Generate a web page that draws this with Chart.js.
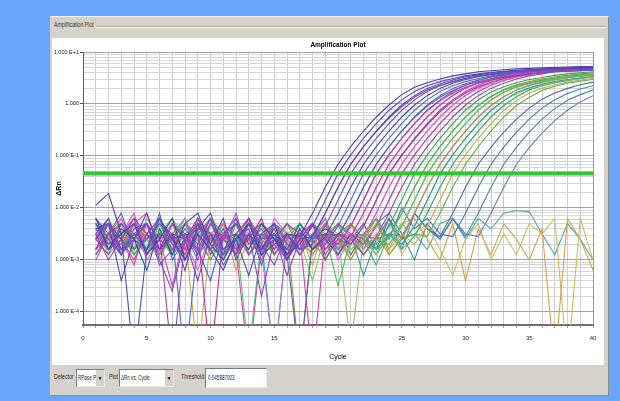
<!DOCTYPE html>
<html>
<head>
<meta charset="utf-8">
<script src="https://cdn.jsdelivr.net/npm/chart.js@4.4.0/dist/chart.umd.min.js"></script>
<style>
  body { margin: 0; width: 620px; height: 401px; background: #6ca6fc; overflow: hidden;
         font-family: 'Liberation Sans', Arial, sans-serif; }
  #panel { position: absolute; left: 50px; top: 16px; width: 558px; height: 378px; background: #d5d2cc;
           border-top: 1px solid #f4f4f4; border-right: 1px solid #8c8c8c; border-bottom: 1px solid #8c8c8c; }
  .narrow { position: absolute; white-space: nowrap; transform: scaleX(0.74); transform-origin: 0 50%; }
  #caption { left: 4px; top: 4px; font-size: 7px; color: #333; }
  #groupline { position: absolute; left: 46px; right: 3px; top: 9px; border-top: 1px solid #a9a6a0; border-bottom: 1px solid #fff; }
  #plotbox { position: absolute; left: 2px; top: 21px; width: 552px; height: 327px; background: #fff; }
  .lbl { top: 356px; font-size: 7px; color: #222; }
  .box { position: absolute; top: 352px; height: 16px; background: #fff; border: 1px solid #7a7a7a;
         border-right-color: #e8e8e8; border-bottom-color: #e8e8e8; }
  .box .narrow { left: 1px; top: 4px; font-size: 6.5px; color: #222; transform: scaleX(0.7); }
  .arrow { position: absolute; right: 0; top: 0; width: 8px; height: 16px; background: #d5d2cc;
           font-size: 5px; text-align: center; line-height: 16px; color: #000; }
</style>
</head>
<body>
<div id="panel">
  <div id="caption" class="narrow">Amplification Plot</div>
  <div id="groupline"></div>
  <div id="plotbox"><canvas id="ampChart" width="552" height="326"></canvas></div>
  <div class="lbl narrow" style="left:4px">Detector</div>
  <div class="box" style="left:26px;width:27px"><div class="narrow">RPase P</div><div class="arrow">▼</div></div>
  <div class="lbl narrow" style="left:59px">Plot</div>
  <div class="box" style="left:69px;width:53px"><div class="narrow">ΔRn vs. Cycle</div><div class="arrow">▼</div></div>
  <div class="lbl narrow" style="left:131px">Threshold</div>
  <div class="box" style="left:155px;width:60px;height:18px;top:351px"><div class="narrow" style="top:5px;left:2px">0.045887003</div></div>
</div>
<script>
// cycles
const cycles = [1,2,3,4,5,6,7,8,9,10,11,12,13,14,15,16,17,18,19,20,
                21,22,23,24,25,26,27,28,29,30,31,32,33,34,35,36,37,38,39,40];
const xTickLabels = [0, 5, 10, 15, 20, 25, 30, 35, 40];
const yDecades = [10, 1, 0.1, 0.01, 0.001, 0.0001];
const yDecadeLabels = ['1.000 E+1', '1.000', '1.000 E-1', '1.000 E-2', '1.000 E-3', '1.000 E-4'];
const threshold = 0.045887003;

// log10(ΔRn) per well, cycles 1..40 (-5 = below the axis)
const wA1 = [-1.95,-1.72,-2.5,-2.3,-2.9,-2.6,-2.2,-3.0,-2.5,-2.8,-3.2,-2.6,-2.3,-2.9,-2.7,-2.5,
  -2.55,-2.1,-1.6,-1.16,-0.82,-0.52,-0.25,-0.02,0.18,0.32,0.41,0.48,0.54,0.58,0.62,0.64,0.66,0.675,0.685,0.695,0.705,0.71,0.72,0.72];
const wA2 = [-2.4,-2.3,-3.4,-2.6,-2.1,-2.8,-2.5,-3.2,-2.3,-2.7,-2.2,-3.0,-2.5,-2.8,-2.4,-2.9,
  -2.7,-2.35,-1.85,-1.34,-0.98,-0.66,-0.38,-0.12,0.08,0.24,0.35,0.43,0.49,0.54,0.58,0.61,0.63,0.65,0.66,0.67,0.68,0.69,0.695,0.70];
const wA3 = [-2.3,-2.7,-2.5,-5,-2.8,-2.2,-2.6,-3.0,-2.4,-2.1,-2.8,-2.6,-3.3,-2.5,-2.3,-3.0,-2.6,
  -2.55,-2.1,-1.6,-1.16,-0.82,-0.52,-0.25,-0.02,0.16,0.30,0.39,0.46,0.52,0.56,0.60,0.62,0.64,0.655,0.665,0.675,0.685,0.69,0.70];
const wA4 = [-2.6,-2.2,-2.9,-2.4,-2.3,-3.0,-3.6,-2.6,-2.2,-2.8,-2.4,-2.9,-2.3,-2.7,-3.1,-2.5,-2.8,
  -2.7,-2.35,-1.85,-1.34,-0.98,-0.66,-0.38,-0.12,0.08,0.24,0.35,0.43,0.49,0.54,0.58,0.61,0.63,0.65,0.66,0.67,0.68,0.69,0.695];
const wA5 = [-2.2,-2.8,-2.4,-2.6,-3.2,-2.4,-2.9,-2.3,-2.1,-2.7,-3.0,-2.5,-2.8,-2.3,-2.6,-2.9,-2.4,-2.8,
  -2.55,-2.1,-1.6,-1.16,-0.82,-0.52,-0.25,-0.02,0.16,0.30,0.40,0.47,0.53,0.57,0.61,0.63,0.65,0.665,0.675,0.685,0.69,0.70];
const wA6 = [-2.9,-2.5,-2.1,-2.8,-2.6,-2.3,-2.5,-5,-2.7,-2.2,-2.9,-2.6,-2.4,-3.1,-2.3,-2.7,-2.8,-2.5,
  -2.7,-2.35,-1.85,-1.34,-0.98,-0.66,-0.38,-0.12,0.08,0.24,0.35,0.43,0.49,0.54,0.58,0.61,0.63,0.65,0.66,0.67,0.68,0.69];
const wA7 = [-2.5,-3.0,-2.6,-2.2,-2.5,-2.8,-2.3,-2.6,-3.4,-2.5,-2.9,-2.2,-2.7,-2.4,-2.8,-2.5,-2.9,
  -2.55,-2.1,-1.6,-1.16,-0.82,-0.53,-0.27,-0.05,0.13,0.27,0.36,0.43,0.49,0.53,0.57,0.59,0.61,0.625,0.635,0.645,0.655,0.66,0.67];
const wA8 = [-2.6,-2.3,-2.9,-2.5,-2.8,-2.1,-3.0,-2.6,-2.4,-2.5,-3.1,-2.7,-2.3,-2.6,-2.5,-2.9,-5,-2.6,-2.4,
  -2.55,-2.1,-1.6,-1.16,-0.82,-0.52,-0.25,-0.02,0.16,0.30,0.39,0.46,0.52,0.56,0.60,0.62,0.64,0.655,0.665,0.675,0.685];
const wB1 = [-2.4,-2.8,-2.5,-2.2,-2.9,-2.6,-3.5,-2.5,-2.8,-2.3,-2.6,-2.1,-2.9,-2.5,-2.7,-3.0,-2.4,-2.8,-2.5,
  -2.7,-2.35,-1.85,-1.34,-0.98,-0.66,-0.38,-0.12,0.08,0.24,0.36,0.45,0.52,0.57,0.61,0.64,0.66,0.68,0.69,0.70,0.71];
const wB2 = [-3.0,-2.5,-2.7,-2.3,-2.1,-2.8,-2.5,-2.9,-2.2,-2.6,-2.5,-2.8,-5,-2.7,-2.3,-2.9,-2.5,-2.8,-2.6,-2.3,
  -2.55,-2.1,-1.6,-1.16,-0.82,-0.52,-0.25,-0.02,0.17,0.31,0.41,0.49,0.55,0.60,0.63,0.66,0.68,0.695,0.705,0.715];
const wB3 = [-2.2,-2.5,-2.9,-2.6,-2.3,-3.1,-2.8,-2.4,-2.7,-2.2,-2.9,-2.6,-2.3,-2.8,-2.5,-3.3,-2.6,-2.3,-2.9,-2.5,
  -2.7,-2.35,-1.85,-1.34,-0.98,-0.66,-0.38,-0.12,0.08,0.24,0.36,0.45,0.52,0.57,0.61,0.64,0.66,0.68,0.69,0.70];
const wB4 = [-2.8,-2.3,-2.6,-3.0,-2.5,-2.2,-2.7,-2.9,-2.4,-5,-2.5,-2.8,-2.6,-2.2,-2.9,-2.5,-2.8,-2.3,-3.0,-2.6,
  -2.7,-2.35,-1.85,-1.34,-0.99,-0.68,-0.40,-0.15,0.05,0.21,0.33,0.42,0.49,0.54,0.58,0.61,0.64,0.66,0.67,0.68];
const wB5 = [-2.5,-2.7,-2.2,-2.8,-2.5,-2.9,-2.3,-2.6,-3.2,-2.5,-2.3,-2.8,-2.6,-2.9,-2.2,-2.5,-2.8,-2.6,-2.3,-3.0,-2.6,
  -2.55,-2.1,-1.6,-1.16,-0.82,-0.52,-0.25,-0.02,0.17,0.31,0.41,0.49,0.55,0.60,0.63,0.66,0.68,0.695,0.71];
const wB6 = [-2.6,-2.9,-2.3,-2.5,-2.8,-2.2,-2.6,-2.5,-3.0,-2.3,-2.6,-2.8,-2.5,-3.7,-2.6,-2.3,-2.5,-2.8,-2.6,
  -2.7,-2.35,-1.85,-1.34,-0.98,-0.66,-0.38,-0.13,0.06,0.21,0.32,0.40,0.46,0.51,0.55,0.58,0.60,0.62,0.63,0.64,0.65];
const wB7 = [-2.4,-2.7,-2.5,-2.1,-2.9,-2.6,-2.8,-2.3,-2.5,-2.2,-3.0,-2.6,-2.5,-2.8,-2.3,-2.6,-2.9,-2.5,-2.2,-2.8,-2.6,
  -2.7,-2.35,-1.85,-1.34,-0.98,-0.66,-0.38,-0.12,0.08,0.24,0.36,0.45,0.52,0.57,0.61,0.64,0.66,0.68,0.69];
const wB8 = [-2.9,-2.5,-2.3,-2.6,-2.8,-2.5,-5,-2.6,-2.3,-2.9,-2.5,-2.8,-2.2,-2.6,-2.5,-3.0,-2.6,-2.3,-2.8,-2.5,-2.6,-2.9,
  -2.55,-2.1,-1.6,-1.16,-0.82,-0.52,-0.25,-0.02,0.16,0.30,0.40,0.48,0.54,0.58,0.62,0.64,0.66,0.68];
const wB9 = [-2.5,-2.2,-2.8,-2.6,-2.3,-2.9,-2.5,-2.6,-2.8,-3.4,-2.5,-2.3,-2.6,-2.9,-2.5,-2.8,-2.3,-2.6,-2.5,
  -2.55,-2.1,-1.6,-1.16,-0.82,-0.52,-0.26,-0.04,0.13,0.26,0.36,0.43,0.48,0.52,0.56,0.58,0.60,0.62,0.63,0.64,0.65];
const wB10 = [-2.6,-2.8,-2.5,-2.3,-3.0,-2.6,-2.5,-2.2,-2.8,-2.6,-2.9,-2.3,-2.5,-2.8,-5,-2.6,-2.5,-2.3,-2.8,-2.6,-2.5,
  -2.55,-2.1,-1.6,-1.16,-0.82,-0.52,-0.25,-0.02,0.16,0.30,0.40,0.48,0.54,0.59,0.62,0.65,0.67,0.69,0.70];
const wB11 = [-2.2,-2.6,-2.9,-2.5,-2.3,-2.8,-2.6,-2.5,-2.9,-2.3,-2.6,-2.5,-2.2,-2.8,-2.6,-3.0,-2.5,-2.3,-2.6,-2.9,-2.5,
  -2.7,-2.35,-1.85,-1.34,-0.98,-0.66,-0.38,-0.12,0.08,0.24,0.36,0.45,0.52,0.57,0.61,0.64,0.66,0.68,0.69];
const wB12 = [-2.8,-2.5,-2.6,-3.1,-2.3,-2.6,-2.5,-2.8,-2.2,-2.5,-2.6,-2.9,-2.5,-2.3,-2.6,-2.8,-2.5,-5,-2.6,-2.5,
  -2.55,-2.1,-1.6,-1.16,-0.82,-0.52,-0.25,-0.02,0.16,0.30,0.40,0.48,0.54,0.59,0.62,0.65,0.67,0.69,0.70,0.71];
const wC1 = [-2.5,-2.8,-2.3,-2.6,-2.9,-2.5,-2.2,-2.6,-2.8,-2.5,-3.0,-2.3,-2.6,-2.5,-2.9,-2.6,-2.3,-2.8,-2.5,-3.5,-2.6,-2.5,-2.8,
  -2.55,-2.1,-1.6,-1.16,-0.82,-0.52,-0.25,-0.03,0.14,0.27,0.35,0.41,0.46,0.50,0.53,0.56,0.58];
const wC2 = [-2.6,-2.3,-2.5,-2.8,-2.2,-2.6,-2.9,-2.5,-2.3,-2.6,-2.8,-2.5,-4.8,-2.6,-2.3,-2.9,-2.5,-2.6,-2.2,-2.8,-2.5,-2.9,-2.6,
  -2.7,-2.35,-1.85,-1.34,-0.98,-0.66,-0.38,-0.12,0.07,0.22,0.32,0.39,0.44,0.48,0.51,0.54,0.56];
const wC3 = [-2.3,-2.9,-2.6,-2.5,-2.8,-2.3,-2.6,-3.0,-2.5,-2.2,-2.6,-2.8,-2.5,-2.3,-2.9,-2.6,-2.5,-2.8,-2.3,-2.6,-3.0,-2.5,-2.6,
  -2.7,-2.35,-1.85,-1.34,-0.98,-0.66,-0.38,-0.12,0.08,0.23,0.33,0.40,0.45,0.49,0.52,0.55,0.57];
const wC4 = [-2.8,-2.5,-2.2,-2.6,-2.5,-2.9,-2.3,-2.6,-2.8,-2.5,-2.3,-3.2,-2.6,-2.5,-2.8,-2.3,-2.6,-2.9,-2.5,-2.6,-2.3,-2.8,-2.5,-2.9,
  -2.55,-2.1,-1.6,-1.16,-0.82,-0.52,-0.25,-0.03,0.14,0.27,0.35,0.41,0.46,0.50,0.53,0.55];
const wC5 = [-2.5,-2.6,-2.9,-2.3,-2.8,-2.5,-2.6,-2.2,-2.9,-2.6,-2.5,-2.8,-2.3,-2.6,-5,-2.5,-2.8,-2.6,-2.3,-2.9,-2.5,-2.6,-2.8,-2.5,
  -2.7,-2.35,-1.85,-1.34,-0.98,-0.66,-0.38,-0.12,0.07,0.22,0.31,0.38,0.43,0.47,0.50,0.53];
const wC6 = [-2.6,-2.5,-2.3,-2.8,-2.6,-3.0,-2.5,-2.3,-2.6,-2.8,-2.5,-2.9,-2.6,-2.3,-2.5,-2.8,-2.6,-3.4,-2.5,-2.3,-2.8,-2.6,-2.9,-2.5,
  -2.7,-2.35,-1.85,-1.34,-0.98,-0.66,-0.38,-0.13,0.06,0.20,0.30,0.37,0.42,0.46,0.49,0.52];
const wC7 = [-2.3,-2.8,-2.5,-2.6,-2.9,-2.3,-2.5,-2.8,-2.6,-2.2,-2.5,-2.9,-2.6,-2.8,-2.3,-2.5,-2.6,-2.9,-2.5,-2.8,-2.3,-2.6,-3.1,-2.5,-2.8,
  -2.55,-2.1,-1.6,-1.16,-0.82,-0.52,-0.25,-0.03,0.14,0.27,0.35,0.41,0.45,0.49,0.52];
const wC8 = [-2.8,-2.5,-2.6,-2.3,-2.5,-2.9,-2.6,-2.5,-4.9,-2.6,-2.3,-2.8,-2.5,-2.6,-2.9,-2.5,-2.3,-2.6,-2.8,-2.5,-3.0,-2.6,-2.3,-2.8,-2.5,
  -2.7,-2.35,-1.85,-1.34,-0.98,-0.66,-0.38,-0.12,0.07,0.21,0.30,0.37,0.42,0.46,0.49];
const wC9 = [-2.5,-2.6,-2.3,-2.9,-2.5,-2.8,-2.6,-2.3,-2.5,-3.0,-2.6,-2.5,-2.8,-2.3,-2.6,-2.5,-2.9,-2.6,-2.3,-2.8,-2.5,-2.6,-2.2,-2.9,-2.6,-2.5,
  -2.55,-2.1,-1.6,-1.16,-0.82,-0.52,-0.25,-0.03,0.13,0.26,0.34,0.40,0.44,0.47];
const wC10 = [-2.6,-2.5,-2.8,-2.3,-2.6,-2.9,-2.5,-2.6,-2.3,-2.8,-2.5,-2.6,-2.2,-2.9,-2.6,-2.5,-5,-2.6,-2.3,-2.8,-2.5,-2.6,-2.9,
  -2.55,-2.1,-1.6,-1.16,-0.82,-0.52,-0.25,-0.03,0.15,0.28,0.37,0.43,0.48,0.52,0.55,0.58,0.60];
const wC11 = [-2.5,-2.3,-2.6,-2.8,-2.5,-2.2,-2.9,-2.6,-2.5,-2.8,-2.3,-2.6,-2.5,-3.0,-2.6,-2.3,-2.8,-2.5,-2.6,-2.9,-2.5,-3.3,-2.6,-2.5,
  -2.55,-2.1,-1.6,-1.16,-0.82,-0.52,-0.25,-0.03,0.14,0.27,0.36,0.42,0.47,0.51,0.54,0.56];
const wC12 = [-2.9,-2.6,-2.5,-2.8,-2.3,-2.6,-2.5,-2.9,-2.6,-2.3,-2.8,-2.5,-2.6,-2.3,-2.9,-2.5,-2.8,-2.6,-2.3,-2.5,-4.7,-2.6,-2.8,-2.5,-2.3,
  -2.55,-2.1,-1.6,-1.16,-0.82,-0.52,-0.25,-0.03,0.14,0.27,0.35,0.41,0.46,0.50,0.53];
const wC13 = [-2.3,-2.6,-2.5,-2.9,-2.6,-2.3,-2.8,-2.5,-2.6,-2.2,-2.8,-2.5,-2.9,-2.6,-2.3,-2.5,-2.8,-2.6,-3.0,-2.5,-2.3,-2.6,
  -2.7,-2.35,-1.85,-1.34,-0.98,-0.66,-0.38,-0.12,0.08,0.23,0.33,0.41,0.47,0.51,0.55,0.58,0.60,0.62];
const wD1 = [-2.6,-2.3,-2.8,-2.5,-2.6,-2.9,-2.3,-2.5,-2.8,-2.6,-2.5,-2.2,-2.9,-2.6,-2.5,-2.8,-2.3,-2.6,-2.5,-2.9,-2.6,-2.3,-2.8,-2.2,-2.6,-2.1,-2.4,
  -2.55,-2.1,-1.6,-1.16,-0.83,-0.54,-0.29,-0.08,0.09,0.21,0.30,0.37,0.42];
const wD2 = [-2.5,-2.8,-2.6,-2.3,-2.9,-2.5,-2.6,-2.8,-2.3,-2.5,-2.6,-2.9,-2.5,-2.8,-2.3,-2.6,-2.5,-2.8,-2.6,-2.3,-2.9,-2.5,-2.2,-2.6,-2.0,-2.4,-2.2,-2.5,
  -2.55,-2.1,-1.6,-1.16,-0.83,-0.54,-0.29,-0.08,0.08,0.20,0.29,0.35];
const wD3 = [-2.8,-2.5,-2.3,-2.6,-2.5,-2.9,-2.6,-2.3,-2.8,-2.5,-2.6,-2.3,-2.9,-2.5,-2.6,-2.8,-2.5,-2.3,-2.6,-2.9,-2.5,-2.8,-2.3,-2.1,-2.5,-3.0,-2.3,-2.6,-2.2,
  -2.55,-2.1,-1.6,-1.16,-0.83,-0.54,-0.29,-0.09,0.07,0.18,0.27];
const wD4 = [-2.6,-2.5,-2.8,-2.3,-2.6,-2.5,-2.9,-2.6,-2.3,-2.5,-2.8,-2.6,-2.5,-2.9,-2.3,-2.6,-2.5,-2.8,-2.6,-2.3,-2.5,-2.9,-2.6,-2.2,-2.8,-2.1,-2.4,-2.6,-2.2,-2.5,
  -2.55,-2.1,-1.6,-1.16,-0.84,-0.56,-0.32,-0.12,0.04,0.16];
const wN1 = [-2.6,-2.3,-2.8,-2.5,-2.9,-2.6,-2.3,-3.0,-2.5,-2.8,-2.6,-2.3,-2.9,-2.5,-2.6,-2.8,-2.5,-3.1,-2.3,-2.6,
  -2.9,-2.5,-2.2,-2.8,-2.3,-2.2,-2.6,-3.0,-2.3,-3.4,-2.4,-2.9,-2.3,-2.6,-3.0,-2.4,-5,-2.2,-2.6,-3.2];
const wN2 = [-2.5,-2.8,-2.6,-2.3,-2.9,-2.5,-2.6,-2.8,-2.3,-2.5,-2.9,-2.6,-2.5,-2.8,-2.3,-2.6,-2.5,-2.9,-2.6,-2.3,
  -2.8,-2.5,-2.6,-2.2,-2.9,-2.5,-2.3,-2.8,-3.3,-2.6,-2.3,-3.0,-2.5,-2.9,-2.3,-2.5,-2.2,-5,-2.2,-3.0];
const wN3 = [-2.4,-2.6,-2.5,-2.9,-2.6,-2.3,-2.8,-2.5,-2.6,-3.0,-2.5,-2.3,-2.6,-2.8,-2.5,-2.9,-2.6,-2.3,-2.5,-2.8,
  -2.6,-2.5,-2.9,-2.3,-2.6,-2.5,-2.8,-2.3,-2.2,-2.6,-2.2,-2.4,-2.1,-2.05,-2.07,-2.5,-2.9,-2.3,-2.6,-3.0];

const wells = [wA1, wA2, wA3, wA4, wA5, wA6, wA7, wA8,
               wB1, wB2, wB3, wB4, wB5, wB6, wB7, wB8, wB9, wB10, wB11, wB12,
               wC1, wC2, wC3, wC4, wC5, wC6, wC7, wC8, wC9, wC10, wC11, wC12, wC13,
               wD1, wD2, wD3, wD4, wN1, wN2, wN3];
const wellColors = ['#4a3fb0', '#6a3cb8', '#3d55b5', '#7a4ac0', '#2f4f9f', '#5b62c8', '#8a3fb0', '#4a6ab0',
                    '#c03cc0', '#d04aa0', '#9b3fb8', '#b8309a', '#e060c8', '#7050c0', '#c85cb8', '#a040a0',
                    '#4060c0', '#d070d0', '#8040b0', '#e040a0',
                    '#3cc050', '#50c878', '#a0a040', '#d09040', '#30a0a0', '#80d060', '#40b080', '#c0b050',
                    '#60b040', '#b08040', '#4090a0', '#90c070', '#2aa860',
                    '#5068a8', '#4a7ab8', '#3a8c9c', '#6080c0', '#d8a050', '#c8c060', '#50a8a8'];

const isDecade = v => Math.abs(Math.log10(v) - Math.round(Math.log10(v))) < 1e-6;
const yGrid = [];
yDecades.forEach(d => {
    if (d < 10) [1, 2, 3, 4, 5, 6, 7, 8, 9].forEach(m => yGrid.push(m * d));
});
yGrid.push(10);

Chart.defaults.font.family = "'Liberation Sans', Arial, sans-serif";
Chart.defaults.color = '#222';

const datasets = [{
    data: [{x: 0, y: threshold}, {x: 40, y: threshold}],
    borderColor: '#33c633',
    borderWidth: 4,
    pointRadius: 0
}];
wells.forEach((w, i) => {
    datasets.push({
        data: w.map((v, j) => ({x: cycles[j], y: Math.pow(10, v)})),
        borderColor: wellColors[i],
        borderWidth: 1.1,
        pointRadius: 0,
        tension: 0
    });
});

document.addEventListener('DOMContentLoaded', function() {
const ctx = document.getElementById('ampChart').getContext('2d');
new Chart(ctx, {
    type: 'line',
    data: {datasets: datasets},
    options: {
        responsive: false,
        animation: false,
        events: [],
        layout: {padding: {left: 0, right: 11, top: 0, bottom: 0}},
        plugins: {
            legend: {display: false},
            tooltip: {enabled: false},
            title: {
                display: true,
                fullSize: false,
                text: 'Amplification Plot',
                font: {size: 6.5, weight: 'bold'},
                color: '#000',
                padding: {top: 3, bottom: 3.2}
            }
        },
        scales: {
            x: {
                type: 'linear',
                min: 0,
                max: 40,
                afterFit: s => { s.height = 39; },
                ticks: {
                    stepSize: 1,
                    autoSkip: false,
                    maxRotation: 0,
                    padding: 7,
                    font: {size: 6},
                    callback: v => xTickLabels.includes(v) ? String(v) : ''
                },
                grid: {
                    color: c => c.tick && c.tick.value === 40 ? '#999' : '#cfcfcf',
                    tickLength: 3,
                    tickColor: '#999'
                },
                border: {color: '#707070', width: 2},
                title: {display: true, text: 'Cycle', font: {size: 7}, color: '#000', padding: {top: 0, bottom: 3}}
            },
            y: {
                type: 'logarithmic',
                min: 0.000056,
                max: 10,
                afterFit: s => { s.width = 31; },
                afterBuildTicks: s => { s.ticks = yGrid.map(v => ({value: v})); },
                ticks: {
                    autoSkip: false,
                    padding: 1,
                    font: {size: 5.5},
                    callback: v => {
                        const k = yDecades.findIndex(d => Math.abs(d - v) < d * 1e-6);
                        return k >= 0 ? yDecadeLabels[k] : '';
                    }
                },
                grid: {
                    color: c => c.tick && isDecade(c.tick.value) ? '#a2a2a2' : '#d6d6d6',
                    tickLength: 3,
                    tickColor: c => c.tick && isDecade(c.tick.value) ? '#555' : 'rgba(0,0,0,0)'
                },
                border: {color: '#606060', width: 1},
                title: {display: true, text: 'ΔRn', font: {size: 7, weight: 'bold'}, color: '#000', padding: {top: 3, bottom: 0}}
            }
        }
    }
});
});
</script>
</body>
</html>
